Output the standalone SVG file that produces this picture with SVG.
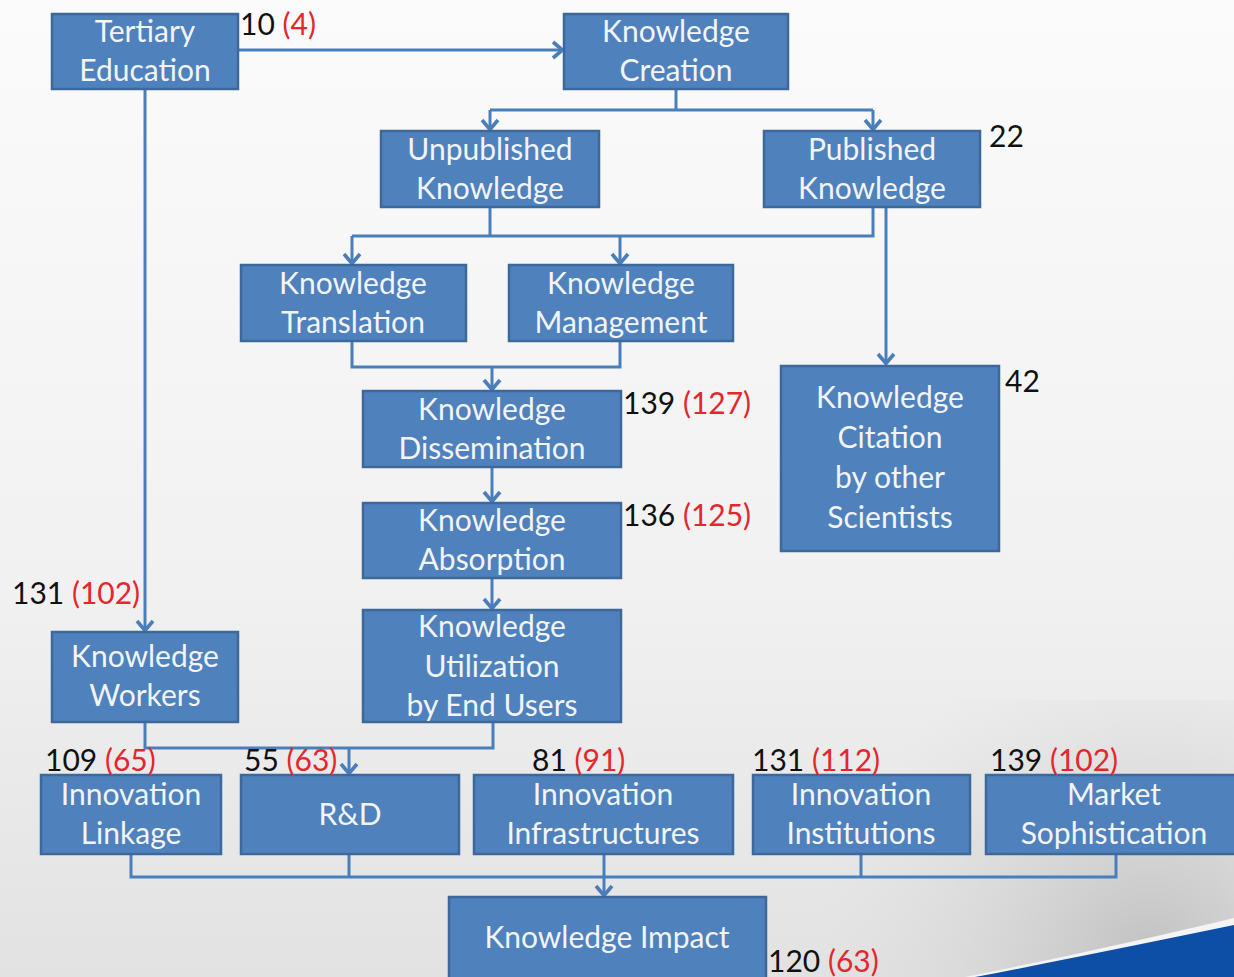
<svg xmlns="http://www.w3.org/2000/svg" width="1234" height="977" viewBox="0 0 1234 977">
<defs>
<linearGradient id="bg" x1="0" y1="0" x2="0" y2="1">
<stop offset="0" stop-color="#fbfbfb"/>
<stop offset="0.6" stop-color="#f1f1f1"/>
<stop offset="1" stop-color="#e2e2e2"/>
</linearGradient>
<radialGradient id="shade" cx="1150" cy="960" r="330" gradientUnits="userSpaceOnUse">
<stop offset="0" stop-color="#b8b8b8" stop-opacity="0.8"/>
<stop offset="1" stop-color="#d8d8d8" stop-opacity="0"/>
</radialGradient>
<marker id="arr" viewBox="0 0 14 20" refX="12" refY="10" markerWidth="14" markerHeight="20" markerUnits="userSpaceOnUse" orient="auto">
<path d="M2,2 L11.5,10 L2,18" fill="none" stroke="#4a7ebb" stroke-width="3.6"/>
</marker>
</defs>
<style>
.box{fill:#4f81bd;stroke:#3c689c;stroke-width:2.5}
.t{font-family:Lato,"Liberation Sans",sans-serif;font-size:30px;fill:#f2f4f8;text-anchor:middle}
.n{font-family:Lato,"Liberation Sans",sans-serif;font-size:30px;fill:#111}
.r{fill:#e5262b}
.c{fill:none;stroke:#4a7ebb;stroke-width:3}
.a{fill:none;stroke:#4a7ebb;stroke-width:3;marker-end:url(#arr)}
</style>
<rect x="0" y="0" width="1234" height="977" fill="url(#bg)"/>
<rect x="700" y="700" width="534" height="277" fill="url(#shade)"/>
<path d="M965,977 C1060,958 1150,938 1234,918 L1234,977 Z" fill="#f4f4f4"/>
<path d="M975,977 C1065,960 1150,942 1234,925 L1234,977 Z" fill="#0d4ea6"/>

<g id="connectors">
<line class="a" x1="238" y1="50" x2="563" y2="50"/>
<polyline class="c" points="676,89 676,110"/>
<polyline class="c" points="490,110 873,110"/>
<line class="a" x1="490" y1="110" x2="490" y2="130"/>
<line class="a" x1="873" y1="110" x2="873" y2="130"/>
<polyline class="c" points="490,207 490,236"/>
<polyline class="c" points="873,207 873,236 352,236"/>
<line class="a" x1="352" y1="236" x2="352" y2="264"/>
<line class="a" x1="620" y1="236" x2="620" y2="264"/>
<line class="a" x1="886" y1="207" x2="886" y2="364"/>
<polyline class="c" points="352,341 352,367 620,367 620,341"/>
<line class="a" x1="492" y1="367" x2="492" y2="390"/>
<line class="a" x1="492" y1="467" x2="492" y2="502"/>
<line class="a" x1="492" y1="578" x2="492" y2="609"/>
<line class="a" x1="145" y1="89" x2="145" y2="631"/>
<polyline class="c" points="145,722 145,748 493,748 493,722"/>
<line class="a" x1="349" y1="748" x2="349" y2="774"/>
<polyline class="c" points="131,854 131,877 1116,877 1116,854"/>
<line class="c" x1="349" y1="854" x2="349" y2="877"/>
<line class="c" x1="861" y1="854" x2="861" y2="877"/>
<line class="c" x1="604" y1="854" x2="604" y2="877"/>
<line class="a" x1="604" y1="877" x2="604" y2="896"/>
</g>

<g id="tertiary"><rect class="box" x="52" y="14" width="186" height="75"/><text class="t" x="145" y="42">Tertiary</text><text class="t" x="145" y="81">Education</text></g>
<g id="creation"><rect class="box" x="564" y="14" width="224" height="75"/><text class="t" x="676" y="42">Knowledge</text><text class="t" x="676" y="81">Creation</text></g>
<g id="unpublished"><rect class="box" x="381" y="131" width="218" height="76"/><text class="t" x="490" y="160">Unpublished</text><text class="t" x="490" y="199">Knowledge</text></g>
<g id="published"><rect class="box" x="764" y="131" width="216" height="76"/><text class="t" x="872" y="160">Published</text><text class="t" x="872" y="199">Knowledge</text></g>
<g id="translation"><rect class="box" x="241" y="265" width="225" height="76"/><text class="t" x="353" y="294">Knowledge</text><text class="t" x="353" y="333">Translation</text></g>
<g id="management"><rect class="box" x="509" y="265" width="224" height="76"/><text class="t" x="621" y="294">Knowledge</text><text class="t" x="621" y="333">Management</text></g>
<g id="dissemination"><rect class="box" x="363" y="391" width="258" height="76"/><text class="t" x="492" y="420">Knowledge</text><text class="t" x="492" y="459">Dissemination</text></g>
<g id="absorption"><rect class="box" x="363" y="503" width="258" height="75"/><text class="t" x="492" y="531">Knowledge</text><text class="t" x="492" y="570">Absorption</text></g>
<g id="utilization"><rect class="box" x="363" y="610" width="258" height="112"/><text class="t" x="492" y="637">Knowledge</text><text class="t" x="492" y="677">Utilization</text><text class="t" x="492" y="716">by End Users</text></g>
<g id="citation"><rect class="box" x="781" y="366" width="218" height="185"/><text class="t" x="890" y="408">Knowledge</text><text class="t" x="890" y="448">Citation</text><text class="t" x="890" y="488">by other</text><text class="t" x="890" y="528">Scientists</text></g>
<g id="workers"><rect class="box" x="52" y="632" width="186" height="90"/><text class="t" x="145" y="667">Knowledge</text><text class="t" x="145" y="706">Workers</text></g>
<g id="linkage"><rect class="box" x="41" y="775" width="180" height="79"/><text class="t" x="131" y="805">Innovation</text><text class="t" x="131" y="844">Linkage</text></g>
<g id="rd"><rect class="box" x="241" y="775" width="218" height="79"/><text class="t" x="350" y="825">R&amp;D</text></g>
<g id="infrastructures"><rect class="box" x="474" y="775" width="259" height="79"/><text class="t" x="603" y="805">Innovation</text><text class="t" x="603" y="844">Infrastructures</text></g>
<g id="institutions"><rect class="box" x="753" y="775" width="217" height="79"/><text class="t" x="861" y="805">Innovation</text><text class="t" x="861" y="844">Institutions</text></g>
<g id="market"><rect class="box" x="986" y="775" width="262" height="79"/><text class="t" x="1114" y="805">Market</text><text class="t" x="1114" y="844">Sophistication</text></g>
<g id="impact"><rect class="box" x="449" y="897" width="317" height="90"/><text class="t" x="607" y="948">Knowledge Impact</text></g>

<g id="labels">
<text class="n" x="240" y="35">10 <tspan class="r">(4)</tspan></text>
<text class="n" x="989" y="147">22</text>
<text class="n" x="623" y="414">139 <tspan class="r">(127)</tspan></text>
<text class="n" x="623" y="526">136 <tspan class="r">(125)</tspan></text>
<text class="n" x="1005" y="392">42</text>
<text class="n" x="12" y="604">131 <tspan class="r">(102)</tspan></text>
<text class="n" x="45" y="771">109 <tspan class="r">(65)</tspan></text>
<text class="n" x="244" y="771">55 <tspan class="r">(63)</tspan></text>
<text class="n" x="532" y="771">81 <tspan class="r">(91)</tspan></text>
<text class="n" x="752" y="771">131 <tspan class="r">(112)</tspan></text>
<text class="n" x="990" y="771">139 <tspan class="r">(102)</tspan></text>
<text class="n" x="768" y="972">120 <tspan class="r">(63)</tspan></text>
</g>
</svg>
